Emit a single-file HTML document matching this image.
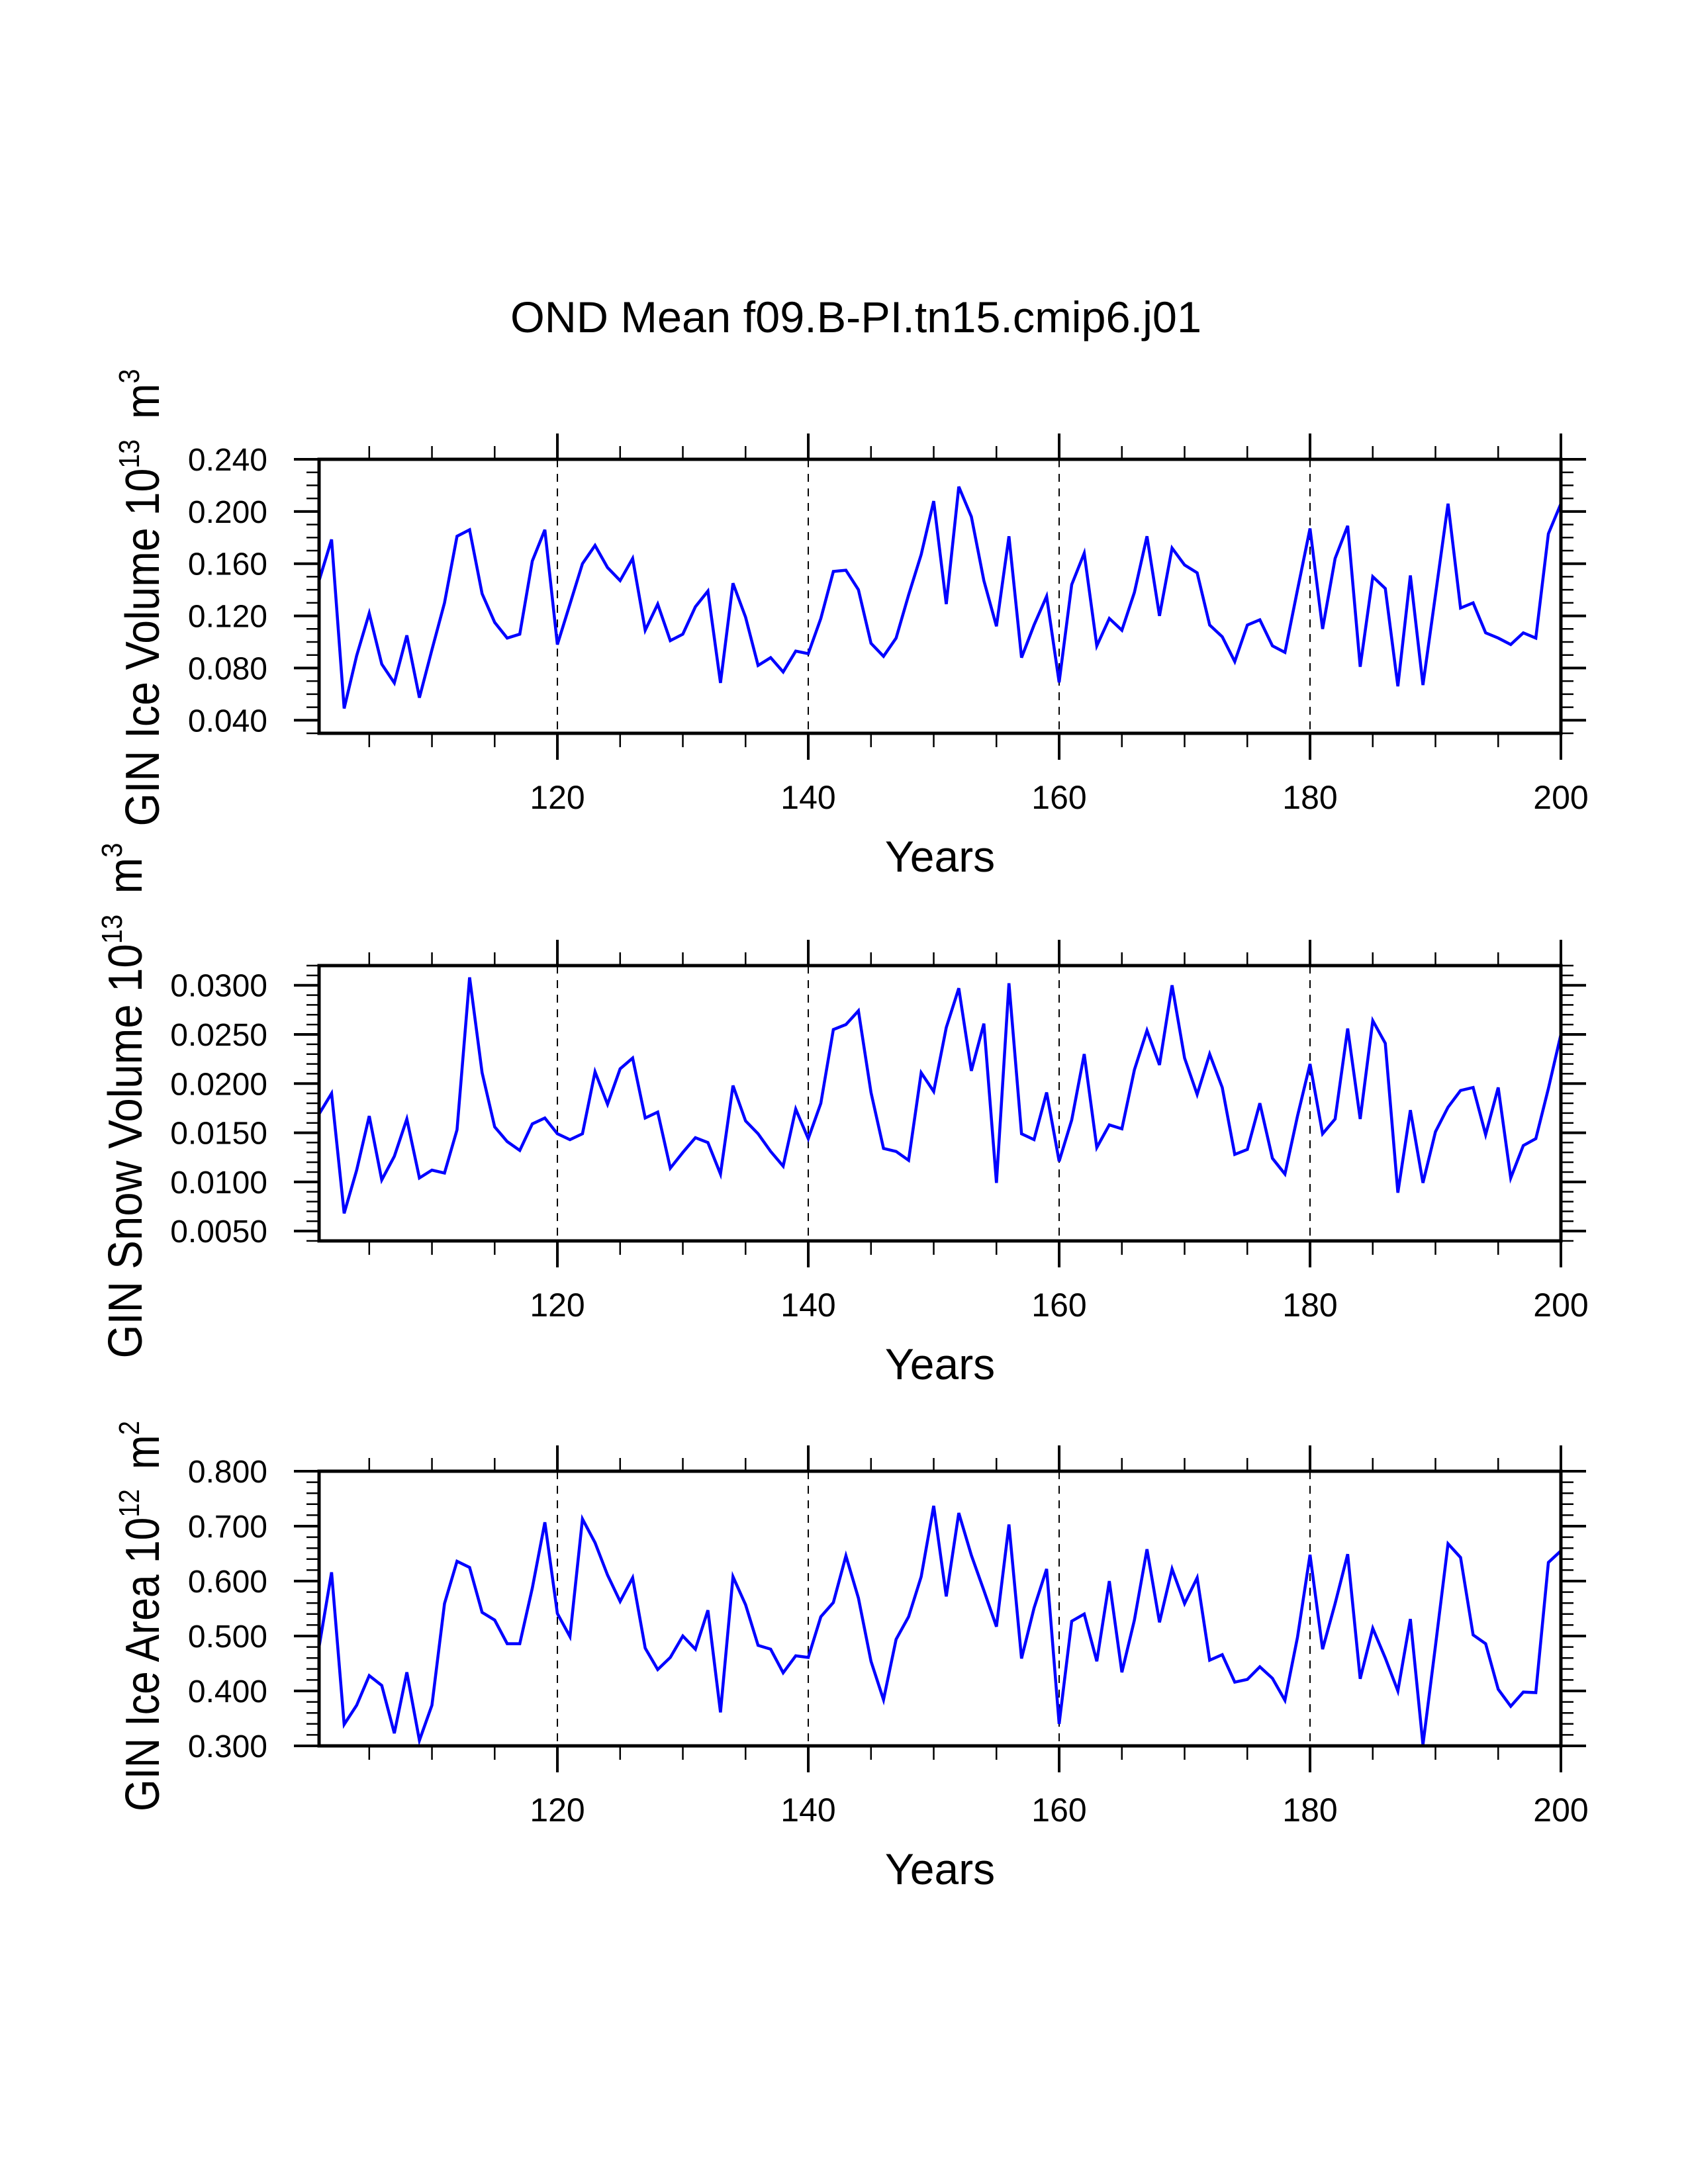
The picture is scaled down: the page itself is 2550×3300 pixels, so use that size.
<!DOCTYPE html>
<html>
<head>
<meta charset="utf-8">
<style>
  html, body { margin: 0; padding: 0; background: #fff; }
  svg { display: block; }
  text { font-family: "Liberation Sans", Arial, sans-serif; fill: #000; }
</style>
</head>
<body>
<svg id="chart" width="2550" height="3300" viewBox="0 0 2550 3300" xmlns="http://www.w3.org/2000/svg">
  <rect x="0" y="0" width="2550" height="3300" fill="#fff"/>
  <text x="1293" y="502" font-size="66" text-anchor="middle" textLength="1044" lengthAdjust="spacingAndGlyphs">OND Mean f09.B-PI.tn15.cmip6.j01</text>
  <g id="panels"></g>
</svg>
<script>
const years = [];
for (let y = 101; y <= 200; y++) years.push(y);

const iceVolume = [
0.147,0.1785,0.049,0.0895,0.122,0.083,0.0686,0.105,0.0573,0.094,
0.130,0.181,0.186,0.137,0.115,0.103,0.106,0.162,0.186,0.098,
0.129,0.160,0.174,0.157,0.147,0.164,0.109,0.129,0.101,0.106,
0.127,0.139,0.0686,0.145,0.119,0.082,0.088,0.077,0.093,0.091,
0.118,0.154,0.155,0.140,0.099,0.089,0.103,0.136,0.167,0.208,
0.129,0.219,0.196,0.147,0.112,0.181,0.088,0.113,0.135,0.069,
0.144,0.168,0.097,0.118,0.109,0.138,0.181,0.120,0.172,0.159,
0.153,0.113,0.104,0.085,0.113,0.117,0.097,0.092,0.140,0.187,
0.110,0.164,0.189,0.081,0.150,0.141,0.066,0.151,0.067,0.136,
0.206,0.126,0.130,0.107,0.103,0.098,0.107,0.103,0.183,0.206
];

const snowVolume = [
0.0169,0.0190,0.0068,0.0112,0.0167,0.0102,0.0126,0.0164,0.0104,0.0112,
0.0109,0.0153,0.0308,0.0211,0.0156,0.0141,0.0132,0.0159,0.0165,0.0149,
0.0143,0.0149,0.0212,0.0179,0.0215,0.0226,0.0165,0.0171,0.0114,0.0130,
0.0145,0.0140,0.0108,0.0198,0.0162,0.0149,0.0131,0.0116,0.0174,0.0144,
0.0180,0.0255,0.0260,0.0274,0.0191,0.0134,0.0131,0.0122,0.0211,0.0192,
0.0257,0.0297,0.0213,0.0261,0.0099,0.0302,0.0149,0.0143,0.0191,0.0121,
0.0163,0.0230,0.0135,0.0158,0.0154,0.0214,0.0254,0.0219,0.0300,0.0226,
0.0189,0.0230,0.0196,0.0128,0.0133,0.0180,0.0124,0.0108,0.0167,0.0220,
0.0149,0.0164,0.0256,0.0164,0.0264,0.0241,0.0089,0.0173,0.0099,0.0151,
0.0176,0.0193,0.0196,0.0148,0.0196,0.0104,0.0137,0.0144,0.0195,0.0250
];

const iceArea = [
0.480,0.616,0.339,0.374,0.428,0.410,0.323,0.434,0.310,0.374,
0.559,0.636,0.625,0.543,0.529,0.486,0.486,0.587,0.707,0.541,
0.499,0.713,0.670,0.611,0.563,0.606,0.478,0.439,0.461,0.500,
0.476,0.547,0.361,0.608,0.557,0.483,0.476,0.433,0.464,0.461,
0.535,0.561,0.646,0.569,0.454,0.384,0.494,0.535,0.608,0.737,
0.572,0.724,0.647,0.583,0.517,0.703,0.459,0.551,0.622,0.340,
0.527,0.540,0.454,0.600,0.434,0.529,0.658,0.525,0.622,0.559,
0.606,0.456,0.466,0.416,0.421,0.444,0.423,0.383,0.498,0.648,
0.476,0.559,0.649,0.422,0.514,0.460,0.400,0.531,0.302,0.482,
0.668,0.643,0.502,0.486,0.403,0.372,0.398,0.397,0.634,0.655
];

const xMajorTicks = [120, 140, 160, 180, 200];
const xMinorTicks = [105,110,115,125,130,135,145,150,155,165,170,175,185,190,195];
const xGridTicks = [120, 140, 160, 180];

const iceVolumeTicks = ["0.040","0.080","0.120","0.160","0.200","0.240"];
const snowVolumeTicks = ["0.0050","0.0100","0.0150","0.0200","0.0250","0.0300"];
const iceAreaTicks = ["0.300","0.400","0.500","0.600","0.700","0.800"];

const NS = "http://www.w3.org/2000/svg";
const X0 = 482, X1 = 2358, YR0 = 101, YR1 = 200;
function xScale(yr) { return X0 + (yr - YR0) / (YR1 - YR0) * (X1 - X0); }

function mk(tag, attrs, parent) {
  const el = document.createElementNS(NS, tag);
  for (const k in attrs) el.setAttribute(k, attrs[k]);
  parent.appendChild(el);
  return el;
}

const panelsRoot = document.getElementById('panels');

function drawPanel(cfg) {
  const g = mk('g', {}, panelsRoot);
  
  
  const top = cfg.top, bot = cfg.bottom;
  const yScale = v => bot - (v - cfg.ymin) / (cfg.ymax - cfg.ymin) * (bot - top);

  // dashed grid lines
  xGridTicks.forEach(t => {
    const l = mk('line', {x1: xScale(t), x2: xScale(t), y1: top, y2: bot, stroke: '#000', 'stroke-width': 2, 'stroke-dasharray': '12 10'}, g);
    
    
  });

  // data line
  const pts = cfg.values.map((v, i) => xScale(years[i]).toFixed(1) + ',' + yScale(v).toFixed(1)).join(' ');
  const pl = mk('polyline', {points: pts, fill: 'none', stroke: '#0000ff', 'stroke-width': 4.5, 'stroke-linejoin': 'miter'}, g);
  
  

  // x ticks
  xMajorTicks.forEach(t => {
    const x = xScale(t);
    const a = mk('line', {x1: x, x2: x, y1: top - 39, y2: top, stroke: '#000', 'stroke-width': 4}, g);
    
    
    const b = mk('line', {x1: x, x2: x, y1: bot, y2: bot + 40, stroke: '#000', 'stroke-width': 4}, g);
    
    
    const tx = mk('text', {x: x, y: bot + 114, 'font-size': 50, 'text-anchor': 'middle'}, g);
    tx.textContent = String(t);
    
    
  });
  xMinorTicks.forEach(t => {
    const x = xScale(t);
    const a = mk('line', {x1: x, x2: x, y1: top - 20, y2: top, stroke: '#000', 'stroke-width': 2.5}, g);
    
    
    const b = mk('line', {x1: x, x2: x, y1: bot, y2: bot + 21, stroke: '#000', 'stroke-width': 2.5}, g);
    
    
  });

  // y minor ticks
  const nMinor = Math.round((cfg.ymax - cfg.ymin) / cfg.minorStep);
  for (let i = 0; i <= nMinor; i++) {
    const y = yScale(cfg.ymin + i * cfg.minorStep);
    const a = mk('line', {x1: X0 - 19, x2: X0, y1: y, y2: y, stroke: '#000', 'stroke-width': 2.5}, g);
    
    
    const b = mk('line', {x1: X1, x2: X1 + 19, y1: y, y2: y, stroke: '#000', 'stroke-width': 2.5}, g);
    
    
  }
  // y major ticks + labels
  cfg.ticks.forEach(lbl => {
    const y = yScale(parseFloat(lbl));
    const a = mk('line', {x1: X0 - 38, x2: X0, y1: y, y2: y, stroke: '#000', 'stroke-width': 4}, g);
    
    
    const b = mk('line', {x1: X1, x2: X1 + 38, y1: y, y2: y, stroke: '#000', 'stroke-width': 4}, g);
    
    
    const tx = mk('text', {x: 404, y: y + 17, 'font-size': 48, 'text-anchor': 'end'}, g);
    tx.textContent = lbl;
    
    
  });

  // frame
  const fr = mk('rect', {x: X0, y: top, width: X1 - X0, height: bot - top, fill: 'none', stroke: '#000', 'stroke-width': 5}, g);
  
  

  // x title
  const xt = mk('text', {x: (X0 + X1) / 2, y: bot + 209, 'font-size': 66, 'text-anchor': 'middle'}, g);
  xt.textContent = 'Years';
  
  

  // y title (rotated)
  const cy = cfg.titleCenter;
  const yt = mk('text', {x: 0, y: 0, 'font-size': 72, 'text-anchor': 'middle',
    transform: 'translate(' + cfg.titleX + ',' + cy + ') rotate(-90)',
    textLength: cfg.titleLen, lengthAdjust: 'spacingAndGlyphs'}, g);
  
  
  const t1 = mk('tspan', {}, yt); t1.textContent = cfg.title + ' 10';
  const t2 = mk('tspan', {dy: -30, 'font-size': 44}, yt); t2.textContent = cfg.exp;
  const t3 = mk('tspan', {dy: 30}, yt); t3.textContent = '\u2009 m';
  const t4 = mk('tspan', {dy: -30, 'font-size': 44}, yt); t4.textContent = cfg.unitExp;
}

drawPanel({name: 'ice-volume', top: 694, bottom: 1108, ymin: 0.030, ymax: 0.240, minorStep: 0.01,
  values: iceVolume, ticks: iceVolumeTicks, title: 'GIN Ice Volume', exp: '13', unitExp: '3',
  titleX: 240, titleCenter: 903, titleLen: 691});
drawPanel({name: 'snow-volume', top: 1459, bottom: 1875, ymin: 0.004, ymax: 0.032, minorStep: 0.001,
  values: snowVolume, ticks: snowVolumeTicks, title: 'GIN Snow Volume', exp: '13', unitExp: '3',
  titleX: 214, titleCenter: 1663, titleLen: 779});
drawPanel({name: 'ice-area', top: 2223, bottom: 2638, ymin: 0.300, ymax: 0.800, minorStep: 0.02,
  values: iceArea, ticks: iceAreaTicks, title: 'GIN Ice Area', exp: '12', unitExp: '2',
  titleX: 240, titleCenter: 2442, titleLen: 590});
</script>
</body>
</html>
